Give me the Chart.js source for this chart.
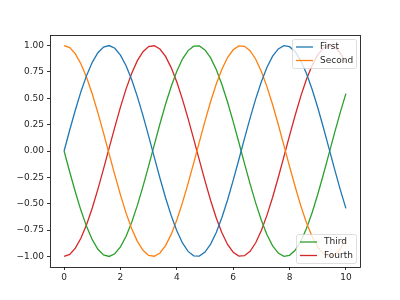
<!DOCTYPE html>
<html>
<head>
<meta charset="utf-8">
<script src="https://cdn.jsdelivr.net/npm/chart.js@4/dist/chart.umd.min.js"></script>
<style>
  html, body { margin: 0; padding: 0; background: #fff; }
  #wrap { width: 400px; height: 300px; }
</style>
</head>
<body>
<div id="wrap"><canvas id="myChart" width="400" height="300"></canvas></div>
<script>
// x positions (step 0.2) and the four curves
var xs = [0, 0.2, 0.4, 0.6, 0.8, 1.0, 1.2, 1.4, 1.6, 1.8, 2.0, 2.2, 2.4, 2.6, 2.8, 3.0, 3.2, 3.4, 3.6, 3.8,
          4.0, 4.2, 4.4, 4.6, 4.8, 5.0, 5.2, 5.4, 5.6, 5.8, 6.0, 6.2, 6.4, 6.6, 6.8, 7.0, 7.2, 7.4, 7.6, 7.8,
          8.0, 8.2, 8.4, 8.6, 8.8, 9.0, 9.2, 9.4, 9.6, 9.8, 10.0];
var first = [0, 0.199, 0.389, 0.565, 0.717, 0.841, 0.932, 0.985, 1.0, 0.974, 0.909, 0.808, 0.675, 0.516, 0.335, 0.141,
             -0.058, -0.256, -0.443, -0.612, -0.757, -0.872, -0.952, -0.994, -0.996, -0.959, -0.883, -0.773, -0.631,
             -0.465, -0.279, -0.083, 0.117, 0.312, 0.494, 0.657, 0.794, 0.899, 0.968, 0.999, 0.989, 0.941, 0.855,
             0.734, 0.585, 0.412, 0.223, 0.025, -0.174, -0.366, -0.544];
var second = [1.0, 0.980, 0.921, 0.825, 0.697, 0.540, 0.362, 0.170, -0.029, -0.227, -0.416, -0.589, -0.737, -0.857,
              -0.942, -0.990, -0.998, -0.967, -0.897, -0.791, -0.654, -0.490, -0.307, -0.112, 0.087, 0.284, 0.469,
              0.635, 0.776, 0.886, 0.960, 0.997, 0.993, 0.951, 0.870, 0.754, 0.608, 0.438, 0.251, 0.054, -0.146,
              -0.339, -0.520, -0.680, -0.811, -0.911, -0.975, -1.0, -0.985, -0.930, -0.839];
var third = [0, -0.199, -0.389, -0.565, -0.717, -0.841, -0.932, -0.985, -1.0, -0.974, -0.909, -0.808, -0.675, -0.516,
             -0.335, -0.141, 0.058, 0.256, 0.443, 0.612, 0.757, 0.872, 0.952, 0.994, 0.996, 0.959, 0.883, 0.773, 0.631,
             0.465, 0.279, 0.083, -0.117, -0.312, -0.494, -0.657, -0.794, -0.899, -0.968, -0.999, -0.989, -0.941,
             -0.855, -0.734, -0.585, -0.412, -0.223, -0.025, 0.174, 0.366, 0.544];
var fourth = [-1.0, -0.980, -0.921, -0.825, -0.697, -0.540, -0.362, -0.170, 0.029, 0.227, 0.416, 0.589, 0.737, 0.857,
              0.942, 0.990, 0.998, 0.967, 0.897, 0.791, 0.654, 0.490, 0.307, 0.112, -0.087, -0.284, -0.469, -0.635,
              -0.776, -0.886, -0.960, -0.997, -0.993, -0.951, -0.870, -0.754, -0.608, -0.438, -0.251, -0.054, 0.146,
              0.339, 0.520, 0.680, 0.811, 0.911, 0.975, 1.0, 0.985, 0.930, 0.839];

var labels = ['First', 'Second', 'Third', 'Fourth'];
var colors = ['#1f77b4', '#ff7f0e', '#2ca02c', '#d62728'];
var xTicks = [0, 2, 4, 6, 8, 10];
var yTicks = [-1.0, -0.75, -0.5, -0.25, 0, 0.25, 0.5, 0.75, 1.0];

var FONT = '"DejaVu Sans", sans-serif';

function pts(ys) {
    var out = [];
    for (var i = 0; i < xs.length; i++) {
        out.push({x: xs[i], y: ys[i]});
    }
    return out;
}

// draw the axes box on all four sides
var frame = {
    id: 'frame',
    afterDatasetsDraw: function(chart) {
        var a = chart.chartArea, c = chart.ctx;
        c.save();
        c.strokeStyle = '#000';
        c.lineWidth = 0.8;
        c.strokeRect(Math.round(a.left) + 0.5, Math.round(a.top) + 0.5,
                     Math.round(a.right - a.left), Math.round(a.bottom - a.top));
        c.restore();
    }
};

// two separate legend boxes like the original (upper right and lower right)
function drawLegend(c, x, y, w, h, items) {
    c.save();
    c.globalAlpha = 0.8;
    c.fillStyle = '#fff';
    c.strokeStyle = '#cccccc';
    c.lineWidth = 0.8;
    c.beginPath();
    c.roundRect(x + 0.5, y + 0.5, w, h, 2);
    c.fill();
    c.stroke();
    c.globalAlpha = 1;
    c.font = '9px ' + FONT;
    c.textBaseline = 'middle';
    for (var i = 0; i < items.length; i++) {
        var ly = y + 8 + i * 13.5;
        c.strokeStyle = colors[items[i]];
        c.lineWidth = 1.3;
        c.beginPath();
        c.moveTo(x + 4, ly);
        c.lineTo(x + 21, ly);
        c.stroke();
        c.fillStyle = '#262626';
        c.fillText(labels[items[i]], x + 28, ly);
    }
    c.restore();
}

var legends = {
    id: 'legends',
    afterDraw: function(chart) {
        var a = chart.chartArea, c = chart.ctx;
        drawLegend(c, a.right - 68, a.top + 4, 64, 29, [0, 1]);
        drawLegend(c, a.right - 64, a.bottom - 33, 60, 29, [2, 3]);
    }
};

var datasets = [first, second, third, fourth].map(function(s, i) {
    return {
        label: labels[i],
        data: pts(s),
        borderColor: colors[i],
        backgroundColor: colors[i],
        borderWidth: 1.3,
        pointRadius: 0,
        tension: 0,
        fill: false
    };
});

var ctx = document.getElementById('myChart');
var myChart = new Chart(ctx, {
    type: 'line',
    data: { datasets: datasets },
    plugins: [frame, legends],
    options: {
        responsive: false,
        animation: false,
        devicePixelRatio: 1,
        layout: { padding: { top: 35, right: 40, left: 0, bottom: 0 } },
        plugins: {
            legend: { display: false },
            tooltip: { enabled: false }
        },
        scales: {
            x: {
                type: 'linear',
                min: -0.5,
                max: 10.5,
                afterBuildTicks: function(scale) {
                    scale.ticks = xTicks.map(function(v) { return {value: v}; });
                },
                afterFit: function(scale) { scale.height = 33; },
                border: { display: false },
                grid: { drawOnChartArea: false, drawTicks: true, tickLength: 3, color: '#000', tickWidth: 0.8 },
                ticks: {
                    color: '#262626',
                    padding: 2,
                    maxRotation: 0,
                    autoSkip: false,
                    font: { family: FONT, size: 9 },
                    callback: function(v) { return String(v); }
                }
            },
            y: {
                min: -1.1,
                max: 1.1,
                afterBuildTicks: function(scale) {
                    scale.ticks = yTicks.map(function(v) { return {value: v}; });
                },
                afterFit: function(scale) { scale.width = 50; },
                border: { display: false },
                grid: { drawOnChartArea: false, drawTicks: true, tickLength: 3, color: '#000', tickWidth: 0.8 },
                ticks: {
                    color: '#262626',
                    padding: 3,
                    autoSkip: false,
                    font: { family: FONT, size: 9 },
                    callback: function(v) { return v.toFixed(2).replace('-', '\u2212'); }
                }
            }
        }
    }
});
</script>
</body>
</html>
